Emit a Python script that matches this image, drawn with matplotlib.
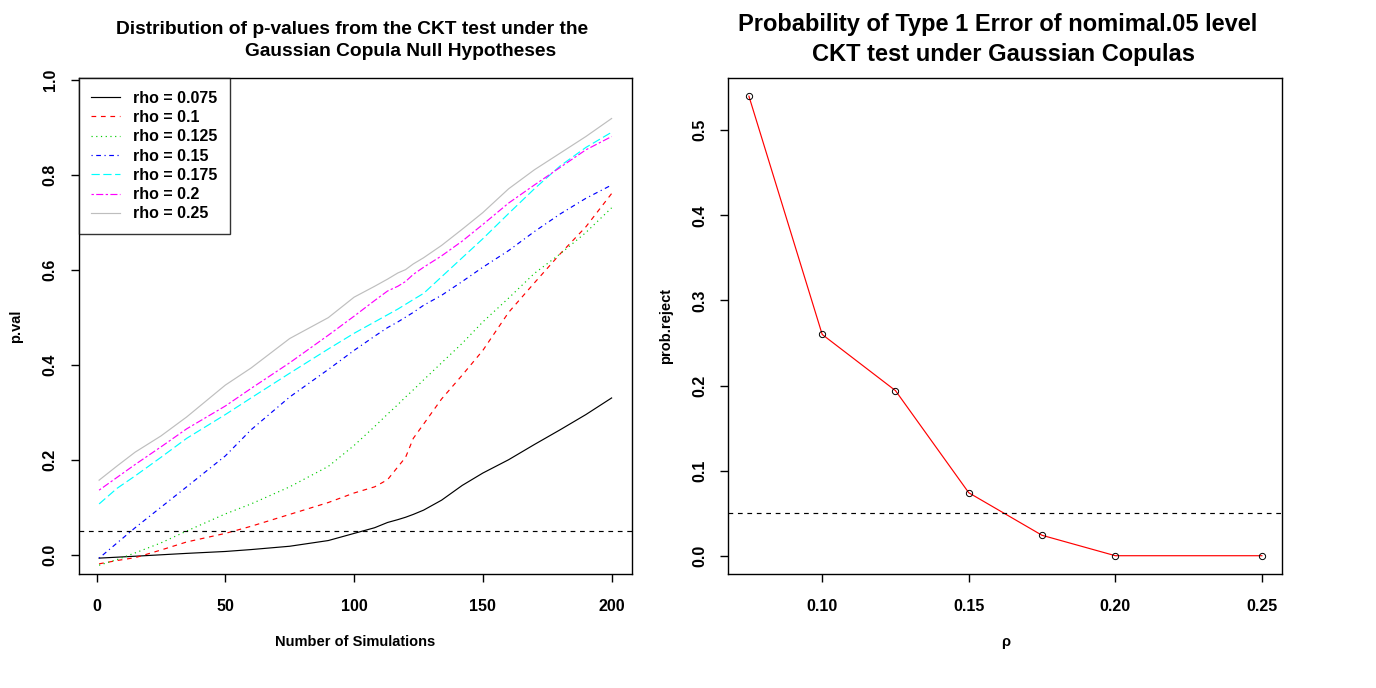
import matplotlib
matplotlib.use("Agg")
import matplotlib.pyplot as plt

plt.rcParams['font.family'] = ['Liberation Sans', 'DejaVu Sans']
plt.rcParams['font.weight'] = 'bold'
plt.rcParams['axes.labelweight'] = 'bold'

# ---------------- data ----------------
n_sims = [1, 8, 15, 25, 35, 50, 60, 75, 90, 100, 108, 113, 117, 120, 123, 127,
          134, 142, 150, 160, 170, 180, 190, 200]

pval_rho_0075 = [-0.007, -0.005, -0.003, 0.000, 0.003, 0.007, 0.011, 0.018, 0.030, 0.045,
                 0.057, 0.068, 0.074, 0.079, 0.085, 0.094, 0.115, 0.146, 0.172, 0.200,
                 0.232, 0.263, 0.295, 0.330]
pval_rho_0100 = [-0.019, -0.012, -0.006, 0.010, 0.027, 0.045, 0.060, 0.085, 0.110, 0.130,
                 0.143, 0.158, 0.185, 0.205, 0.245, 0.275, 0.328, 0.378, 0.430, 0.510,
                 0.572, 0.633, 0.690, 0.760]
pval_rho_0125 = [-0.022, -0.010, 0.004, 0.025, 0.050, 0.086, 0.107, 0.143, 0.186, 0.230,
                 0.270, 0.296, 0.316, 0.332, 0.347, 0.368, 0.404, 0.445, 0.490, 0.540,
                 0.592, 0.633, 0.678, 0.730]
pval_rho_0150 = [-0.007, 0.025, 0.057, 0.100, 0.143, 0.208, 0.263, 0.332, 0.390, 0.430,
                 0.460, 0.478, 0.490, 0.500, 0.510, 0.525, 0.546, 0.575, 0.605, 0.640,
                 0.680, 0.717, 0.750, 0.778]
pval_rho_0175 = [0.107, 0.140, 0.166, 0.205, 0.245, 0.295, 0.330, 0.382, 0.433, 0.466,
                 0.490, 0.505, 0.517, 0.527, 0.537, 0.550, 0.585, 0.625, 0.665, 0.718,
                 0.770, 0.818, 0.857, 0.889]
pval_rho_0200 = [0.136, 0.163, 0.190, 0.227, 0.265, 0.313, 0.350, 0.404, 0.462, 0.502,
                 0.535, 0.555, 0.565, 0.575, 0.590, 0.605, 0.629, 0.660, 0.695, 0.740,
                 0.778, 0.815, 0.852, 0.880]
pval_rho_0250 = [0.157, 0.187, 0.216, 0.250, 0.290, 0.357, 0.393, 0.455, 0.499, 0.542,
                 0.565, 0.580, 0.593, 0.600, 0.612, 0.625, 0.651, 0.685, 0.720, 0.770,
                 0.810, 0.845, 0.880, 0.918]

legend_labels = ["rho = 0.075", "rho = 0.1", "rho = 0.125", "rho = 0.15",
                 "rho = 0.175", "rho = 0.2", "rho = 0.25"]

rho_values = [0.075, 0.1, 0.125, 0.15, 0.175, 0.2, 0.25]
prob_reject = [0.54, 0.26, 0.194, 0.074, 0.024, 0.0, 0.0]

alpha_level = 0.05

left_xticks = [0, 50, 100, 150, 200]
left_yticks = [0.0, 0.2, 0.4, 0.6, 0.8, 1.0]
right_xticks = [0.10, 0.15, 0.20, 0.25]
right_yticks = [0.0, 0.1, 0.2, 0.3, 0.4, 0.5]

# ---------------- styles ----------------
series = [pval_rho_0075, pval_rho_0100, pval_rho_0125, pval_rho_0150,
          pval_rho_0175, pval_rho_0200, pval_rho_0250]
colors = ["black", "#FF0000", "#00CD00", "#0000FF", "#00FFFF", "#FF00FF", "#BEBEBE"]
styles = ["-", (0, (4, 4)), (0, (1, 3)), (0, (1, 3, 4, 3)), (0, (7, 3)),
          (0, (2, 2, 6, 2)), "-"]

W, H = 1376, 688
fig = plt.figure(figsize=(W / 100, H / 100), dpi=100)

def frac(l, t, r, b):
    return [l / W, 1 - b / H, (r - l) / W, (b - t) / H]

ax1 = fig.add_axes(frac(78.6, 77.8, 632.1, 574.1))
ax2 = fig.add_axes(frac(728.4, 77.8, 1282.4, 574.1))

LW = 0.85
tick_fs = 11.5
lab_fs = 10.5

for ys, c, ls, lab in zip(series, colors, styles, legend_labels):
    ax1.plot(n_sims, ys, color=c, linestyle=ls, linewidth=LW, label=lab)
ax1.axhline(alpha_level, color="black", linestyle=(0, (4, 4)), linewidth=LW)

ax1.set_xlim(-6.96, 207.96)
ax1.set_ylim(-0.0406, 1.0036)
ax1.set_xticks(left_xticks)
ax1.set_xticklabels([str(v) for v in left_xticks])
ax1.set_yticks(left_yticks)
ax1.set_yticklabels(["%.1f" % v for v in left_yticks], rotation=90, va="center")

leg = ax1.legend(loc="upper left", bbox_to_anchor=(0, 1), borderaxespad=0,
                 frameon=True, fancybox=False, fontsize=tick_fs,
                 handlelength=1.78, handletextpad=0.8, labelspacing=0.27,
                 borderpad=0.8)
leg.get_frame().set_edgecolor("black")
leg.get_frame().set_linewidth(1.0)

ax2.plot(rho_values, prob_reject, color="#FF0000", linewidth=LW)
ax2.plot(rho_values, prob_reject, linestyle="none", marker="o", markersize=4.5,
         markerfacecolor="none", markeredgecolor="black", markeredgewidth=0.7)
ax2.axhline(alpha_level, color="black", linestyle=(0, (4, 4)), linewidth=LW)
ax2.set_xlim(0.068, 0.257)
ax2.set_ylim(-0.0216, 0.5616)
ax2.set_xticks(right_xticks)
ax2.set_xticklabels(["%.2f" % v for v in right_xticks])
ax2.set_yticks(right_yticks)
ax2.set_yticklabels(["%.1f" % v for v in right_yticks], rotation=90, va="center")

for ax in (ax1, ax2):
    for sp in ax.spines.values():
        sp.set_linewidth(1.0)
        sp.set_color("black")
    ax.tick_params(axis="both", direction="out", length=6, width=1.0,
                   labelsize=tick_fs, colors="black")
    ax.tick_params(axis="x", pad=12)
    ax.tick_params(axis="y", pad=9)

# axis labels
ax1.set_xlabel("Number of Simulations", fontsize=lab_fs, labelpad=15)
ax1.set_ylabel("p.val", fontsize=lab_fs, labelpad=14)
ax2.set_xlabel("ρ", fontsize=lab_fs, labelpad=15)
ax2.set_ylabel("prob.reject", fontsize=lab_fs, labelpad=14)

# titles
fig.text(352 / W, 1 - 30 / H, "Distribution of p-values from the CKT test under the",
         ha="center", va="center", fontsize=13.8, fontweight="bold")
fig.text(401 / W, 1 - 52 / H, "Gaussian Copula Null Hypotheses",
         ha="center", va="center", fontsize=13.8, fontweight="bold")
fig.text(998 / W, 1 - 25 / H, "Probability of Type 1 Error of nomimal.05 level",
         ha="center", va="center", fontsize=17, fontweight="bold")
fig.text(1003 / W, 1 - 55 / H, "CKT test under Gaussian Copulas",
         ha="center", va="center", fontsize=17, fontweight="bold")

fig.savefig("out.png", dpi=100)
